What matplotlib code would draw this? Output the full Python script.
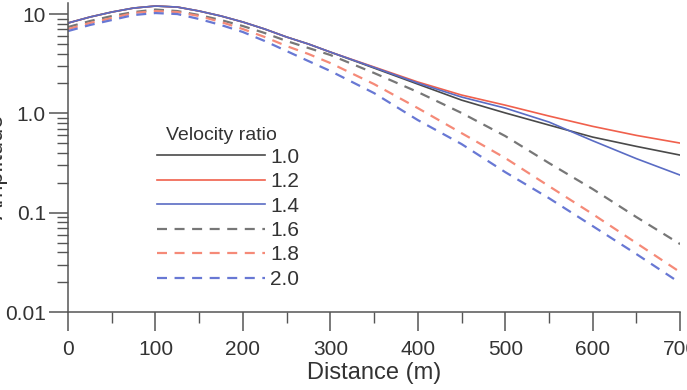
import numpy as np
import matplotlib
matplotlib.use("Agg")
import matplotlib.pyplot as plt
from matplotlib.ticker import FixedLocator, FixedFormatter, LogLocator, NullFormatter

plt.rcParams['font.family'] = ['Liberation Sans', 'DejaVu Sans']

# distance (m)
distance = [0, 25, 50, 75, 100, 125, 150, 175, 200, 225, 250, 275, 300,
            350, 400, 450, 500, 550, 600, 650, 700]

# amplitude for each velocity ratio
amp_10 = [8.12, 9.33, 10.47, 11.49, 12.04, 11.76, 10.72, 9.55, 8.31, 7.06, 5.87, 4.99, 4.14,
          2.86, 1.97, 1.36, 1.01, 0.762, 0.577, 0.465, 0.380]
amp_12 = [8.12, 9.33, 10.47, 11.49, 12.04, 11.76, 10.72, 9.55, 8.31, 7.06, 5.87, 4.99, 4.14,
          2.93, 2.07, 1.53, 1.21, 0.94, 0.740, 0.600, 0.502]
amp_14 = [8.12, 9.33, 10.47, 11.49, 12.04, 11.76, 10.72, 9.55, 8.31, 7.06, 5.87, 4.99, 4.14,
          2.90, 2.02, 1.46, 1.13, 0.818, 0.530, 0.350, 0.239]
amp_16 = [7.40, 8.50, 9.55, 10.47, 11.10, 10.72, 9.77, 8.70, 7.57, 6.44, 5.35, 4.55, 3.87,
          2.55, 1.64, 1.01, 0.591, 0.316, 0.173, 0.0903, 0.0483]
amp_18 = [7.06, 8.12, 9.11, 10.23, 10.72, 10.47, 9.55, 8.31, 7.06, 5.87, 4.76, 3.96, 3.21,
          1.97, 1.13, 0.633, 0.355, 0.185, 0.0968, 0.0494, 0.0252]
amp_20 = [6.74, 7.75, 8.70, 9.77, 10.23, 10.00, 8.91, 7.75, 6.59, 5.35, 4.24, 3.36, 2.67,
          1.60, 0.856, 0.491, 0.256, 0.140, 0.0733, 0.0383, 0.0196]

ratio_labels = ['1.0', '1.2', '1.4', '1.6', '1.8', '2.0']
x_ticks = [0, 100, 200, 300, 400, 500, 600, 700]
y_ticks = [0.01, 0.1, 1.0, 10]
y_tick_labels = ['0.01', '0.1', '1.0', '10']

series = [amp_10, amp_12, amp_14, amp_16, amp_18, amp_20]
colors = ['#4a4a4a', '#f0604c', '#5a6cc4', '#777777', '#f58a78', '#6878d4']
dash = (0, (4.5, 3.4))
styles = ['-', '-', '-', dash, dash, dash]
widths = [1.2, 1.2, 1.2, 1.6, 1.6, 1.6]

fig = plt.figure(figsize=(6.87, 3.9), dpi=100)
ax = fig.add_axes([0.099, 0.2, 0.891, 0.793])

for amp, c, ls, lw, lab in zip(series, colors, styles, widths, ratio_labels):
    ax.plot(distance, amp, color=c, linestyle=ls, linewidth=lw, label=lab)

ax.set_yscale('log')
ax.set_xlim(0, 700)
ax.set_ylim(0.01, 13)

spine_col = '#555555'
for s in ['top', 'right']:
    ax.spines[s].set_visible(False)
for s in ['left', 'bottom']:
    ax.spines[s].set_color(spine_col)
    ax.spines[s].set_linewidth(1.1)

ax.xaxis.set_major_locator(FixedLocator(x_ticks))
ax.xaxis.set_minor_locator(FixedLocator([50, 150, 250, 350, 450, 550, 650]))
ax.yaxis.set_major_locator(FixedLocator(y_ticks))
ax.yaxis.set_major_formatter(FixedFormatter(y_tick_labels))
ax.yaxis.set_minor_locator(LogLocator(base=10, subs=np.arange(2, 10), numticks=20))
ax.yaxis.set_minor_formatter(NullFormatter())

ax.tick_params(axis='both', which='major', direction='out', length=14, width=1.1,
               color=spine_col, labelcolor='#333333', labelsize=15)
ax.tick_params(axis='both', which='minor', direction='out', length=8, width=1.0,
               color=spine_col)
ax.tick_params(axis='x', which='major', pad=6)
ax.tick_params(axis='y', which='major', pad=2)

ax.set_xlabel('Distance (m)', fontsize=17, color='#333333', labelpad=2)
ax.set_ylabel('Amplitude', fontsize=17, color='#333333')
ax.yaxis.set_label_coords(-0.098, 0.47)

# legend (title drawn separately so it sits closer to the entries)
leg = ax.legend(loc='upper left', bbox_to_anchor=(138 / 687, 1 - 129 / 390),
                bbox_transform=fig.transFigure, frameon=False, fontsize=15,
                handlelength=5.2, handletextpad=0.25, labelspacing=0.26, borderpad=0.4)
for t in leg.get_texts():
    t.set_color('#333333')
fig.text(221 / 687, 1 - 135 / 390, 'Velocity ratio', ha='center', va='center',
         fontsize=14, color='#333333')

fig.savefig('out.png', dpi=100)
